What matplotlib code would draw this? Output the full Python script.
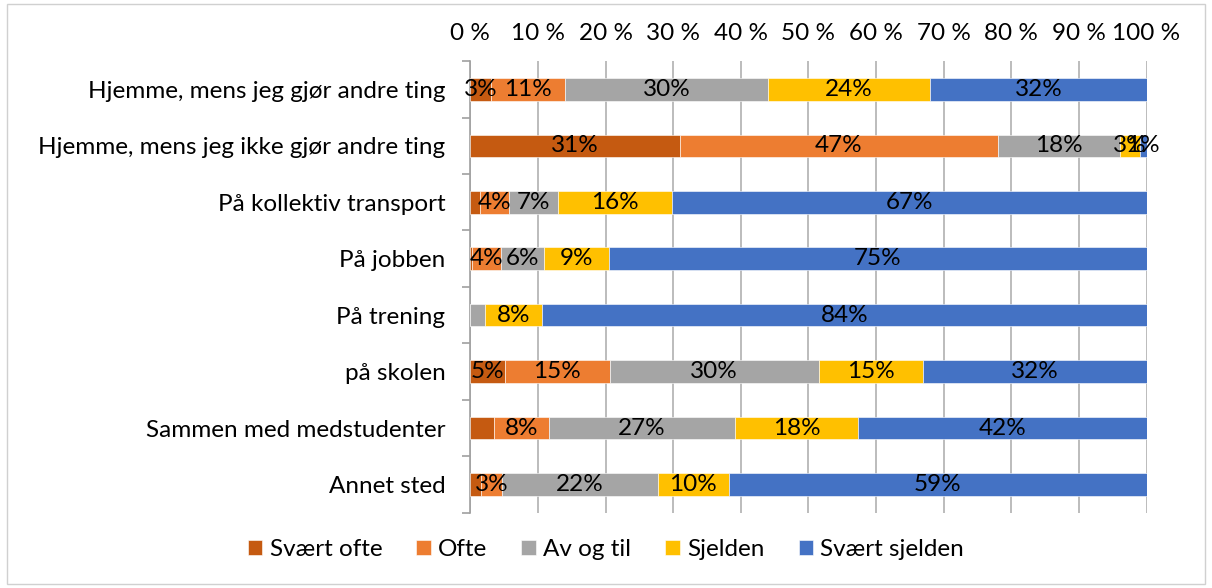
import matplotlib.pyplot as plt
import numpy as np
from matplotlib.patches import Rectangle

plt.rcParams['font.family'] = ['Lato', 'DejaVu Sans']

categories = [
    "Hjemme, mens jeg gjør andre ting",
    "Hjemme, mens jeg ikke gjør andre ting",
    "På kollektiv transport",
    "På jobben",
    "På trening",
    "på skolen",
    "Sammen med medstudenter",
    "Annet sted",
]
series = ["Svært ofte", "Ofte", "Av og til", "Sjelden", "Svært sjelden"]
colors = ["#C55A11", "#ED7D31", "#A5A5A5", "#FFC000", "#4472C4"]

# raw answers (%), one list per series, rows in category order
svaert_ofte = [3, 31, 1.4, 0.3, 0, 5, 3.5, 1.5]
ofte = [11, 47, 4, 4, 0, 15, 8, 3]
av_og_til = [30, 18, 7, 6, 2, 30, 27, 22]
sjelden = [24, 3, 16, 9, 8, 15, 18, 10]
svaert_sjelden = [32, 1, 67, 75, 84, 32, 42, 59]

# which segments carry a data label
show_label = [
    [1, 1, 1, 1, 1],
    [1, 1, 1, 1, 1],
    [0, 1, 1, 1, 1],
    [0, 1, 1, 1, 1],
    [0, 0, 0, 1, 1],
    [1, 1, 1, 1, 1],
    [0, 1, 1, 1, 1],
    [0, 1, 1, 1, 1],
]

fs = 17.5

data = np.array([svaert_ofte, ofte, av_og_til, sjelden, svaert_sjelden], dtype=float)
share = data / data.sum(axis=0) * 100

fig = plt.figure(figsize=(12.12, 5.88), dpi=100)
ax = fig.add_axes([0.388, 0.128, 0.558, 0.768])

y = np.arange(len(categories))
left = np.zeros(len(categories))
for i, name in enumerate(series):
    ax.barh(y, share[i], left=left, height=0.4, color=colors[i], label=name,
            edgecolor='white', linewidth=0.4, zorder=3)
    for j in range(len(categories)):
        if show_label[j][i]:
            ax.text(left[j] + share[i][j] / 2, y[j], f"{data[i][j]:.0f}%",
                    ha='center', va='center', fontsize=fs, color='black', zorder=4)
    left += share[i]

ax.set_xlim(0, 100)
ax.set_ylim(len(categories) - 0.5, -0.5)
ax.set_xticks(np.arange(0, 101, 10))
ax.set_xticklabels([f"{v} %" for v in range(0, 101, 10)], fontsize=fs)
ax.xaxis.tick_top()
ax.tick_params(axis='x', length=0, pad=12)
ax.set_yticks(y)
ax.set_yticklabels(categories, fontsize=fs)
ax.set_yticks(np.arange(len(categories) + 1) - 0.5, minor=True)
ax.tick_params(axis='y', which='major', length=0, pad=18)
ax.tick_params(axis='y', which='minor', length=6, color='#a0a0a0', width=1.2)
ax.grid(axis='x', color='#b0b0b0', linewidth=1.2, zorder=0)
for s in ['top', 'right', 'bottom']:
    ax.spines[s].set_visible(False)
ax.spines['left'].set_color('#a0a0a0')
ax.spines['left'].set_linewidth(1.2)

handles, labels = ax.get_legend_handles_labels()
fig.legend(handles, labels, loc='center', bbox_to_anchor=(0.5, 0.065), ncol=5,
           frameon=False, fontsize=fs, handlelength=0.6, handleheight=0.6,
           handletextpad=0.3, columnspacing=1.4)

fig.patches.append(Rectangle((0.006, 0.006), 0.988, 0.988, transform=fig.transFigure,
                             fill=False, edgecolor='#d0d0d0', linewidth=1))

fig.savefig('out.png', dpi=100)
